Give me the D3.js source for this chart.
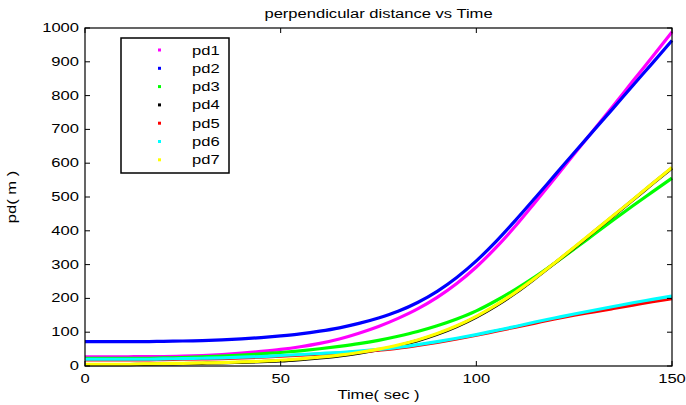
<!DOCTYPE html>
<html>
<head>
<meta charset="utf-8">
<script src="https://cdn.jsdelivr.net/npm/d3@7"></script>
<style>
    body { margin: 0; background: #fff; }
    text { font-family: "Liberation Sans", Arial, sans-serif; fill: #000; }
</style>
</head>
<body>
<div id="chart"></div>
<script>
// time samples (sec)
let time = [0, 5, 10, 15, 20, 25, 30, 35, 40, 45, 50, 55, 60, 65, 70, 75, 80, 85, 90, 95, 100,
    105, 110, 115, 120, 125, 130, 135, 140, 145, 150];

// perpendicular distance series (m)
let pd1 = [27, 27, 27, 28, 28, 29, 31, 34, 38, 43, 49, 57, 67, 80, 97, 117, 141, 169, 203, 244, 293,
    350, 414, 484, 555, 627, 698, 770, 843, 915, 988];
let pd2 = [72, 72, 72, 72, 73, 74, 75, 77, 80, 84, 89, 95, 103, 113, 126, 142, 162, 188, 221, 262, 311,
    368, 431, 497, 564, 631, 697, 763, 830, 896, 963];
let pd3 = [23, 23, 23, 23, 24, 25, 27, 29, 32, 36, 40, 45, 51, 58, 66, 76, 88, 102, 119, 139, 163,
    193, 227, 264, 304, 346, 389, 432, 474, 515, 556];
let pd4 = [4, 4, 4, 5, 6, 7, 8, 9, 11, 13, 15, 19, 24, 30, 38, 48, 60, 75, 94, 117, 145,
    178, 216, 259, 304, 350, 397, 444, 491, 539, 586];
let pd5 = [18, 18, 18, 18, 19, 20, 21, 22, 24, 26, 29, 32, 35, 38, 42, 47, 53, 61, 70, 80, 91,
    103, 115, 127, 139, 150, 160, 170, 180, 190, 199];
let pd6 = [20, 20, 20, 20, 21, 22, 23, 24, 26, 28, 31, 34, 37, 40, 44, 49, 55, 63, 72, 82, 93,
    105, 117, 130, 142, 154, 165, 176, 187, 197, 207];
let pd7 = [5, 5, 5, 6, 7, 8, 9, 10, 12, 14, 17, 21, 26, 32, 40, 50, 62, 77, 96, 119, 147,
    180, 218, 260, 305, 351, 398, 445, 492, 540, 587];

let seriesNames = ["pd1", "pd2", "pd3", "pd4", "pd5", "pd6", "pd7"];
let seriesColors = ["#ff00ff", "#0000ff", "#00ff00", "#000000", "#ff0000", "#00ffff", "#ffff00"];

let xTicks = [0, 50, 100, 150];
let yTicks = [0, 100, 200, 300, 400, 500, 600, 700, 800, 900, 1000];

// text in the original is stretched sideways
const stretch = 1.38;

class pdChart {

    constructor(parentElement) {
        this.parentElement = parentElement;
        this.series = [pd1, pd2, pd3, pd4, pd5, pd6, pd7];
        this.initVis();
    }

    initVis() {
        let vis = this;

        vis.margin = { top: 28, right: 14, bottom: 39, left: 85 };
        vis.width = 686 - vis.margin.left - vis.margin.right;
        vis.height = 405 - vis.margin.top - vis.margin.bottom;

        vis.root = d3.select("#" + vis.parentElement).append("svg")
            .attr("width", 686)
            .attr("height", 405);

        vis.svg = vis.root.append("g")
            .attr("transform", "translate(" + vis.margin.left + "," + vis.margin.top + ")");

        vis.x = d3.scaleLinear().domain([0, 150]).range([0, vis.width]);
        vis.y = d3.scaleLinear().domain([0, 1000]).range([vis.height, 0]);

        vis.updateVis();
    }

    label(g, txt, x, y, anchor) {
        return g.append("text")
            .attr("transform", `translate(${x},${y}) scale(${stretch},1)`)
            .attr("text-anchor", anchor)
            .attr("font-size", 12)
            .text(txt);
    }

    updateVis() {
        let vis = this;

        // lines
        let line = d3.line()
            .x((d, i) => vis.x(time[i]))
            .y(d => vis.y(d))
            .curve(d3.curveMonotoneX);

        vis.svg.selectAll(".pd-line")
            .data(vis.series)
            .join("path")
            .attr("class", "pd-line")
            .attr("d", line)
            .attr("fill", "none")
            .attr("stroke", (d, i) => seriesColors[i])
            .attr("stroke-width", 3.2)
            .attr("stroke-linejoin", "round");

        // box
        vis.svg.append("rect")
            .attr("width", vis.width)
            .attr("height", vis.height)
            .attr("fill", "none")
            .attr("stroke", "#000")
            .attr("stroke-width", 1.2);

        // x ticks (bottom and top, pointing in)
        let xt = vis.svg.append("g").attr("class", "x-axis axis");
        xTicks.forEach(t => {
            xt.append("line").attr("x1", vis.x(t)).attr("x2", vis.x(t))
                .attr("y1", vis.height).attr("y2", vis.height - 5).attr("stroke", "#000");
            xt.append("line").attr("x1", vis.x(t)).attr("x2", vis.x(t))
                .attr("y1", 0).attr("y2", 5).attr("stroke", "#000");
            vis.label(xt, t, vis.x(t), vis.height + 17, "middle");
        });

        // y ticks (left and right)
        let yt = vis.svg.append("g").attr("class", "y-axis axis");
        yTicks.forEach(t => {
            yt.append("line").attr("x1", 0).attr("x2", 5)
                .attr("y1", vis.y(t)).attr("y2", vis.y(t)).attr("stroke", "#000");
            yt.append("line").attr("x1", vis.width).attr("x2", vis.width - 5)
                .attr("y1", vis.y(t)).attr("y2", vis.y(t)).attr("stroke", "#000");
            vis.label(yt, t, -6, vis.y(t) + 4, "end");
        });

        // titles
        vis.label(vis.svg, "perpendicular distance vs Time", vis.width / 2, -10, "middle");
        vis.label(vis.svg, "Time( sec )", vis.width / 2, vis.height + 33, "middle");
        vis.svg.append("text")
            .attr("transform", `translate(-69,${vis.height / 2}) rotate(-90) scale(${stretch},1)`)
            .attr("text-anchor", "middle")
            .attr("font-size", 12)
            .text("pd( m )");

        // legend
        let lg = vis.root.append("g").attr("transform", "translate(121,38)");
        lg.append("rect")
            .attr("width", 108)
            .attr("height", 135)
            .attr("fill", "#fff")
            .attr("stroke", "#000")
            .attr("stroke-width", 1.5);

        seriesNames.forEach((name, i) => {
            let yy = 12 + i * 18.3;
            lg.append("rect")
                .attr("x", 37).attr("y", yy - 1.5)
                .attr("width", 3).attr("height", 3)
                .attr("fill", seriesColors[i]);
            vis.label(lg, name, 71, yy + 4.5, "start");
        });
    }
}

new pdChart("chart");
</script>
</body>
</html>
